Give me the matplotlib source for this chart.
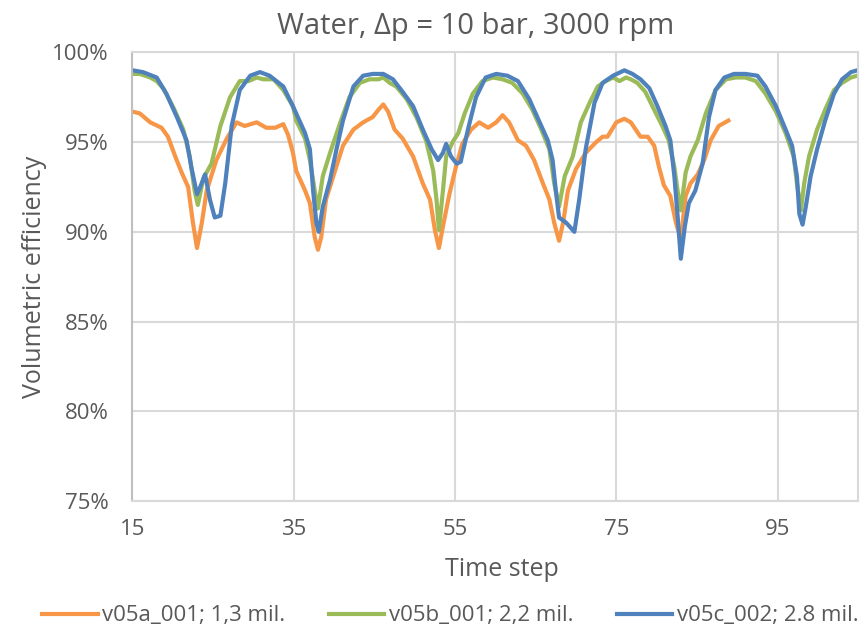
import matplotlib
matplotlib.use('Agg')
import matplotlib.pyplot as plt
from matplotlib.ticker import FuncFormatter

plt.rcParams['font.family'] = ['Open Sans', 'DejaVu Sans']

# v05a_001; 1,3 mil.
t_a = [15.0, 15.9, 17.2, 18.6, 19.4, 20.3, 21.1, 21.9, 22.5, 23.0, 23.6, 24.2, 25.4, 26.7, 27.9,
       28.9, 30.4, 31.6, 32.7, 33.7, 34.3, 34.9, 35.3, 36.4, 37.0, 37.6, 38.0, 38.4, 39.0, 39.9,
       41.1, 42.4, 43.6, 44.8, 45.5, 46.1, 46.7, 47.5, 48.5, 49.8, 51.0, 51.9, 52.5, 53.0, 53.5,
       54.3, 55.1, 55.9, 57.0, 58.0, 59.1, 60.1, 60.9, 61.7, 62.8, 63.8, 64.8, 65.9, 66.7, 67.3,
       67.9, 68.4, 69.0, 70.0, 71.2, 72.5, 73.3, 73.9, 75.0, 76.0, 76.8, 77.4, 78.0, 78.9, 79.7,
       80.3, 80.9, 81.7, 82.4, 83.0, 83.6, 84.2, 85.1, 85.9, 86.7, 87.7, 88.9]
eff_a = [96.7, 96.6, 96.1, 95.8, 95.3, 94.2, 93.3, 92.5, 90.5, 89.1, 90.5, 92.3, 94.0, 95.2, 96.1,
         95.9, 96.1, 95.8, 95.8, 96.0, 95.4, 94.4, 93.4, 92.3, 91.6, 89.7, 89.0, 89.7, 91.8, 93.1,
         94.8, 95.7, 96.1, 96.4, 96.8, 97.1, 96.7, 95.7, 95.2, 94.2, 92.7, 91.8, 90.1, 89.1, 90.3,
         92.1, 93.6, 94.9, 95.7, 96.1, 95.8, 96.1, 96.5, 96.1, 95.1, 94.8, 94.0, 92.7, 91.8, 90.5,
         89.5, 90.5, 92.3, 93.5, 94.4, 95.0, 95.3, 95.3, 96.1, 96.3, 96.1, 95.7, 95.3, 95.3, 94.8,
         93.6, 92.6, 92.0, 90.5, 89.6, 92.0, 92.7, 93.2, 94.0, 95.1, 95.9, 96.2]

# v05b_001; 2,2 mil.
t_b = [15.0, 15.9, 17.2, 18.0, 18.8, 20.1, 21.3, 22.1, 22.7, 23.1, 23.8, 24.8, 25.9, 27.1, 28.3,
       29.4, 30.4, 31.2, 32.5, 33.7, 34.9, 35.3, 36.4, 37.0, 37.6, 38.0, 38.6, 39.5, 40.7, 41.9,
       43.2, 44.4, 45.5, 46.1, 46.9, 47.7, 49.0, 50.2, 51.4, 52.3, 52.7, 53.0, 53.5, 53.9, 54.7,
       55.4, 56.2, 57.2, 58.4, 59.7, 60.9, 62.1, 63.4, 64.6, 65.7, 66.7, 67.3, 67.9, 68.6, 69.6,
       70.6, 71.7, 72.7, 73.7, 74.6, 75.4, 76.2, 76.8, 77.6, 78.6, 79.7, 80.7, 81.5, 82.2, 82.6,
       83.0, 83.6, 84.2, 85.1, 86.1, 87.3, 88.6, 89.8, 91.0, 92.3, 93.5, 94.8, 96.0, 97.0, 97.4,
       97.9, 98.3, 98.9, 99.9, 100.9, 102.0, 103.0, 104.1, 104.9]
eff_b = [98.8, 98.8, 98.6, 98.4, 98.0, 96.9, 95.7, 94.2, 92.3, 91.5, 93.0, 93.8, 95.9, 97.5, 98.4,
         98.4, 98.6, 98.5, 98.5, 97.9, 97.0, 96.2, 95.2, 94.0, 92.3, 91.3, 93.1, 94.4, 96.0, 97.5,
         98.3, 98.5, 98.5, 98.6, 98.3, 98.1, 97.4, 96.4, 95.1, 93.4, 91.8, 90.1, 92.3, 94.2, 95.0,
         95.5, 96.6, 97.7, 98.4, 98.6, 98.5, 98.3, 97.7, 96.8, 95.7, 94.6, 92.7, 91.4, 93.1, 94.2,
         96.1, 97.2, 98.1, 98.4, 98.6, 98.4, 98.6, 98.5, 98.3, 97.8, 96.8, 95.9, 95.1, 93.6, 92.3,
         91.2, 93.3, 94.2, 95.1, 96.6, 97.9, 98.5, 98.6, 98.6, 98.4, 97.7, 96.7, 95.5, 94.2, 92.7,
         91.2, 92.7, 94.2, 95.7, 96.8, 97.9, 98.3, 98.6, 98.7]

# v05c_002; 2.8 mil.
t_c = [15.0, 16.3, 18.0, 19.2, 20.5, 21.7, 22.3, 23.0, 23.4, 24.0, 24.6, 25.2, 25.9, 26.5, 27.3,
       28.3, 29.6, 30.8, 32.0, 33.7, 34.9, 35.3, 36.4, 37.0, 37.4, 37.8, 38.1, 38.6, 39.5, 40.3,
       41.1, 42.4, 43.6, 44.8, 46.1, 47.3, 48.5, 49.8, 51.0, 52.1, 52.9, 53.5, 53.9, 54.5, 55.2,
       55.7, 56.6, 57.6, 58.8, 60.1, 61.5, 62.8, 64.2, 65.5, 66.5, 67.1, 67.5, 67.9, 68.8, 69.8,
       70.4, 71.2, 72.3, 73.3, 74.6, 76.0, 77.0, 78.0, 79.1, 80.1, 81.1, 81.7, 82.2, 82.6, 83.0,
       83.5, 84.0, 84.8, 85.7, 86.5, 87.3, 88.4, 89.6, 91.0, 92.5, 93.5, 94.8, 96.0, 96.8, 97.4,
       97.7, 98.1, 98.5, 99.1, 99.9, 100.9, 102.0, 103.0, 104.1, 104.9]
eff_c = [99.0, 98.9, 98.6, 97.7, 96.4, 95.1, 93.6, 92.1, 92.5, 93.2, 91.8, 90.8, 90.9, 92.7, 95.9,
         97.9, 98.7, 98.9, 98.7, 98.1, 97.0, 96.6, 95.5, 94.6, 92.3, 90.5, 90.0, 91.4, 92.9, 94.6,
         96.2, 98.1, 98.7, 98.8, 98.8, 98.5, 97.8, 97.0, 95.7, 94.6, 94.0, 94.4, 94.9, 94.2, 93.8,
         93.9, 95.7, 97.5, 98.6, 98.8, 98.7, 98.4, 97.4, 96.1, 95.1, 94.0, 92.3, 90.8, 90.5, 90.0,
         91.8, 94.6, 97.2, 98.3, 98.7, 99.0, 98.8, 98.5, 98.0, 97.0, 95.9, 95.1, 93.1, 90.9, 88.5,
         90.3, 91.6, 92.3, 93.8, 96.4, 97.9, 98.6, 98.8, 98.8, 98.7, 98.1, 97.0, 95.7, 94.8, 93.1,
         91.0, 90.4, 91.4, 93.1, 94.6, 96.2, 97.7, 98.5, 98.9, 99.0]

labels = ['v05a_001; 1,3 mil.', 'v05b_001; 2,2 mil.', 'v05c_002; 2.8 mil.']
x_ticks = [15, 35, 55, 75, 95]
y_ticks = [75, 80, 85, 90, 95, 100]

fig = plt.figure(figsize=(8.66, 6.31), dpi=100)
ax = fig.add_axes([0.153, 0.206, 0.838, 0.711])

ax.plot(t_a, eff_a, color='#F79646', linewidth=3, solid_joinstyle='round', label=labels[0])
ax.plot(t_b, eff_b, color='#9BBB59', linewidth=3, solid_joinstyle='round', label=labels[1])
ax.plot(t_c, eff_c, color='#4F81BD', linewidth=3, solid_joinstyle='round', label=labels[2])

ax.set_xlim(15, 105)
ax.set_ylim(75, 100)
ax.set_xticks(x_ticks)
ax.set_yticks(y_ticks)
ax.yaxis.set_major_formatter(FuncFormatter(lambda v, p: '%d%%' % v))
ax.grid(True, color='#D9D9D9', linewidth=1.5)
ax.set_axisbelow(True)
for s in ax.spines.values():
    s.set_color('#D9D9D9')
    s.set_linewidth(1.5)
ax.spines['left'].set_color('#BFBFBF')
ax.tick_params(length=0, labelsize=16, colors='#595959')
ax.tick_params(axis='x', pad=13)
ax.tick_params(axis='y', pad=17)

ax.set_title('Water, \u0394p = 10 bar, 3000 rpm', fontsize=21, color='#595959', pad=13, x=0.473)
ax.set_xlabel('Time step', fontsize=18, color='#595959', labelpad=11)
ax.xaxis.set_label_coords(0.509, -0.125)
ax.set_ylabel('Volumetric efficiency', fontsize=18, color='#595959', labelpad=4)

fig.legend(loc='center', bbox_to_anchor=(0.52, 0.024), ncol=3, frameon=False,
           fontsize=16, handlelength=2.5, columnspacing=1.95, handletextpad=0.2,
           labelcolor='#595959')

plt.savefig('out.png', dpi=100)
plt.close()
